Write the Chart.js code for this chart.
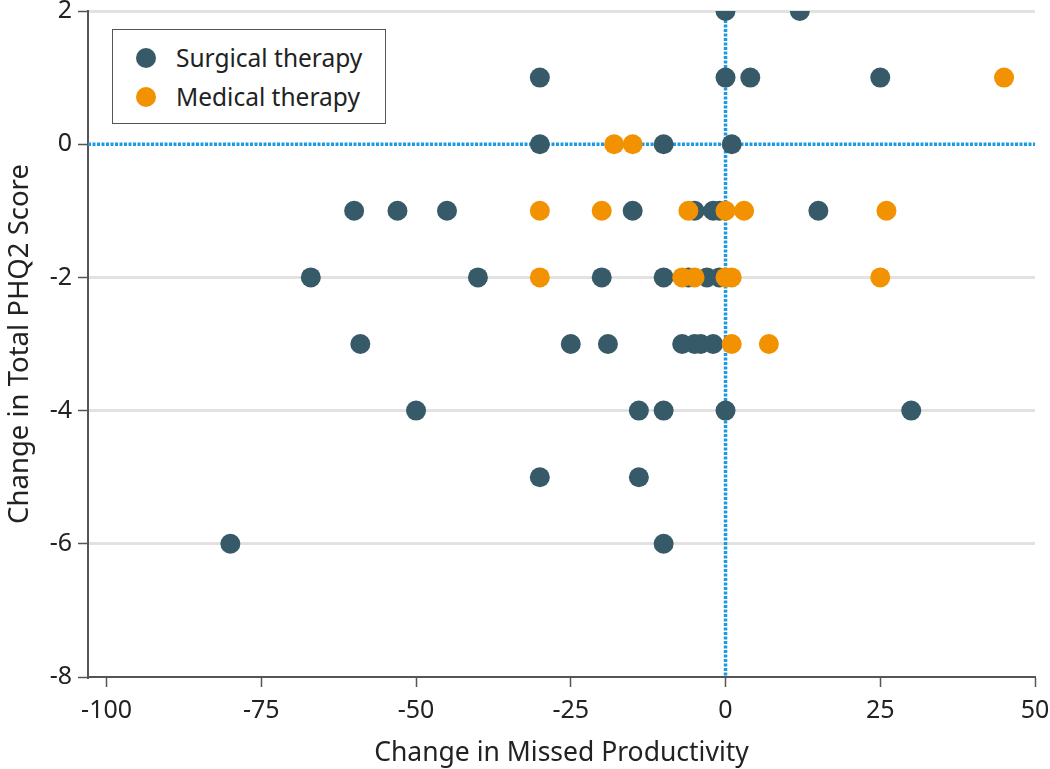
<!DOCTYPE html>
<html>
<head>
<meta charset="utf-8">
<script src="https://cdn.jsdelivr.net/npm/chart.js@4"></script>
<style>
  html, body { margin: 0; padding: 0; background: #fff; }
  #wrap { position: relative; width: 1050px; height: 769px; }
  #legend {
    position: absolute; left: 112px; top: 29px; width: 274px; height: 95px;
    border: 1px solid #555; background: #fff; box-sizing: border-box;
    font-family: "Noto Sans", sans-serif; font-size: 24.5px; color: #222;
    padding-top: 8px;
  }
  #legend .item { display: flex; align-items: center; height: 39px; }
  #legend .dot { width: 20px; height: 20px; border-radius: 50%; margin: 0 20px 0 23px; }
</style>
</head>
<body>
<div id="wrap">
  <canvas id="chart" width="1050" height="769"></canvas>
  <div id="legend"></div>
</div>
<script>
// change in missed productivity (x) and change in PHQ2 score (y)
const surgicalX = [0, 12, -30, 0, 4, 25, -30, -10, 1,
  -60, -53, -45, -15, -5, -2, -1, 15,
  -67, -40, -20, -10, -6, -3, -1,
  -59, -25, -19, -7, -5, -4, -2,
  -50, -14, -10, 0, 30,
  -30, -14,
  -80, -10];
const surgicalY = [2, 2, 1, 1, 1, 1, 0, 0, 0,
  -1, -1, -1, -1, -1, -1, -1, -1,
  -2, -2, -2, -2, -2, -2, -2,
  -3, -3, -3, -3, -3, -3, -3,
  -4, -4, -4, -4, -4,
  -5, -5,
  -6, -6];

const medicalX = [45, -18, -15,
  -30, -20, -6, 0, 3, 26,
  -30, -7, -5, 0, 1, 25,
  1, 7];
const medicalY = [1, 0, 0,
  -1, -1, -1, -1, -1, -1,
  -2, -2, -2, -2, -2, -2,
  -3, -3];

const xTicks = [-100, -75, -50, -25, 0, 25, 50];
const yTicks = [2, 0, -2, -4, -6, -8];

const seriesNames = ['Surgical therapy', 'Medical therapy'];
const seriesColors = ['#365a68', '#f39200'];

const toPoints = (xs, ys) => xs.map((x, i) => ({ x: x, y: ys[i] }));

const FONT = '"Noto Sans", sans-serif';
const AXIS = '#555555';

// blue dotted reference lines at x = 0 and y = 0
const zeroLines = {
  id: 'zeroLines',
  beforeDatasetsDraw(chart) {
    const { ctx, chartArea, scales } = chart;
    const x0 = scales.x.getPixelForValue(0);
    const y0 = scales.y.getPixelForValue(0);
    ctx.save();
    ctx.strokeStyle = '#1a9be4';
    ctx.lineWidth = 3.5;
    ctx.setLineDash([3, 1.5]);
    ctx.beginPath();
    ctx.moveTo(chartArea.left, y0);
    ctx.lineTo(chartArea.right, y0);
    ctx.moveTo(x0, chartArea.top);
    ctx.lineTo(x0, chartArea.bottom);
    ctx.stroke();
    ctx.restore();
  }
};

const chart = new Chart(document.getElementById('chart'), {
  type: 'scatter',
  data: {
    datasets: [
      {
        label: seriesNames[1],
        data: toPoints(medicalX, medicalY),
        backgroundColor: seriesColors[1],
        borderWidth: 0,
        pointRadius: 10,
        pointHoverRadius: 10
      },
      {
        label: seriesNames[0],
        data: toPoints(surgicalX, surgicalY),
        backgroundColor: seriesColors[0],
        borderWidth: 0,
        pointRadius: 10,
        pointHoverRadius: 10
      }
    ]
  },
  options: {
    responsive: false,
    animation: false,
    layout: { padding: 0 },
    plugins: {
      legend: { display: false },
      tooltip: { enabled: false }
    },
    scales: {
      x: {
        type: 'linear',
        min: -103,
        max: 50,
        afterFit: (scale) => {
          scale.height = 92;
          scale.paddingLeft = 0;
          scale.paddingRight = 15;
        },
        afterBuildTicks: (scale) => { scale.ticks = xTicks.map(v => ({ value: v })); },
        border: { color: AXIS, width: 2 },
        grid: { color: 'transparent', tickColor: AXIS, tickLength: 10, tickWidth: 1.5 },
        ticks: { color: '#222', padding: 9, font: { family: FONT, size: 25 } },
        title: {
          display: true,
          text: 'Change in Missed Productivity',
          color: '#222',
          font: { family: FONT, size: 26.5 },
          padding: { top: 4, bottom: 0 }
        }
      },
      y: {
        type: 'linear',
        min: -8,
        max: 2,
        afterFit: (scale) => {
          scale.width = 88;
          scale.paddingTop = 11;
          scale.paddingBottom = 0;
        },
        afterBuildTicks: (scale) => { scale.ticks = yTicks.map(v => ({ value: v })); },
        border: { color: AXIS, width: 2 },
        grid: {
          color: (c) => (c.tick && (c.tick.value === 0 || c.tick.value === -8)) ? 'transparent' : '#e2e2e2',
          lineWidth: 3,
          tickColor: AXIS,
          tickLength: 10,
          tickWidth: 1.5
        },
        ticks: { color: '#222', padding: 6, font: { family: FONT, size: 25, lineHeight: 0.9 } },
        title: {
          display: true,
          text: 'Change in Total PHQ2 Score',
          color: '#222',
          font: { family: FONT, size: 27.5 },
          padding: { bottom: 0, top: 4 }
        }
      }
    }
  },
  plugins: [zeroLines]
});

// legend box in the upper left corner
const legend = document.getElementById('legend');
seriesNames.forEach((name, i) => {
  const item = document.createElement('div');
  item.className = 'item';
  item.innerHTML = '<span class="dot" style="background:' + seriesColors[i] + '"></span><span>' + name + '</span>';
  legend.appendChild(item);
});
</script>
</body>
</html>
